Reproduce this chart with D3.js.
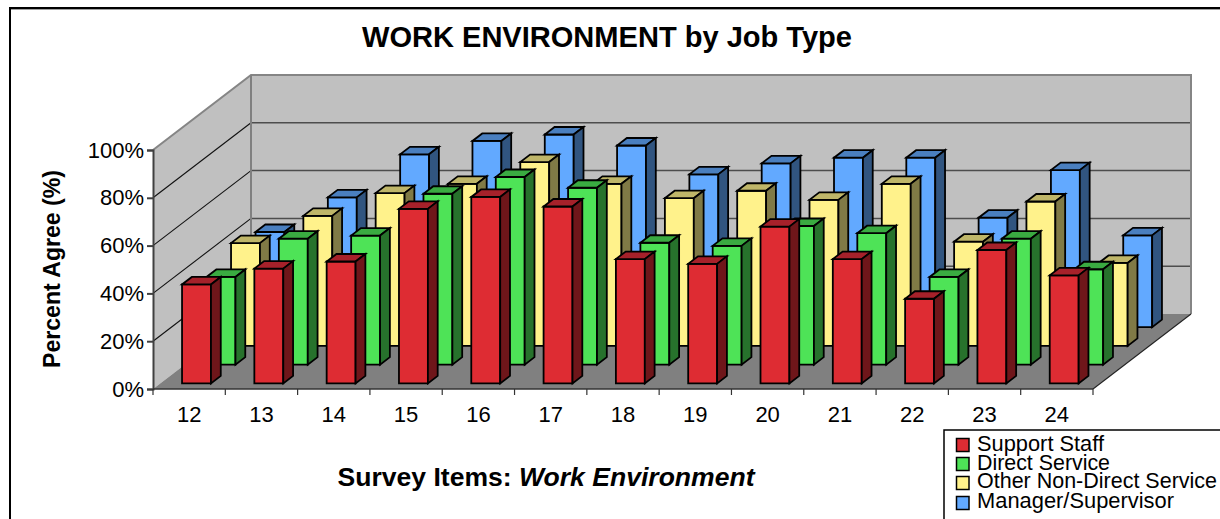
<!DOCTYPE html>
<html><head><meta charset="utf-8">
<script src="https://cdn.jsdelivr.net/npm/d3@7"></script>
<style>
html,body{margin:0;padding:0;background:#fff}
svg{display:block}
text{font-family:"Liberation Sans",Arial,sans-serif;fill:#000}
</style></head><body>
<svg id="chart" width="1220" height="519"></svg>
<script>
const categories = ["12","13","14","15","16","17","18","19","20","21","22","23","24"];
const seriesNames = ["Support Staff","Direct Service","Other Non-Direct Service","Manager/Supervisor"];
const supportStaff = [41.4,48,51,73,78,74,52,50,65.6,52,35.4,55.8,45.2];
const directService = [36.7,52.7,54,71.5,78.5,74,51,49.7,58,55,36.7,52.7,39.9];
const otherNonDirect = [43,54.4,63.9,67.8,76.9,67.8,61.8,64.9,61.1,67.8,43.6,60.4,34.7];
const manager = [39.8,54.3,72.3,77.9,80.6,76,63.9,68.5,70.9,70.9,45.8,65.7,38.4];
const seriesValues = [supportStaff,directService,otherNonDirect,manager];
const frontColors = ["#DE2C33","#4EE357","#FFF28B","#62A9FF"];
const topColors = ["#A6212A","#3AAB41","#BFB669","#4A7FBF"];
const sideColors = ["#6F161A","#27722C","#807A46","#315580"];
const yTicks = [0,20,40,60,80,100];

const L=153,R=1093,B=389,T=150,DX=98,DY=75;
const svg=d3.select("#chart");
const x=d3.scaleBand().domain(categories).range([L,R]).paddingInner(.6).paddingOuter(.3);
const step=x.step();
const depth=d3.scaleBand().domain(seriesNames).range([0,1]).paddingInner(.6).paddingOuter(.3);
const y=d3.scaleLinear().domain([0,100]).range([B,T]);
const poly=pts=>pts.map(p=>p.join(",")).join(" ");

// outer frame
svg.append("line").attr("x1",10).attr("x2",1220).attr("y1",9.5).attr("y2",9.5).attr("stroke","#a0a0a0").attr("stroke-width",1);
svg.append("line").attr("x1",9).attr("x2",1220).attr("y1",8).attr("y2",8).attr("stroke","#000").attr("stroke-width",2);
svg.append("line").attr("x1",10).attr("x2",10).attr("y1",7).attr("y2",519).attr("stroke","#000").attr("stroke-width",2);

// walls and floor
svg.append("polygon").attr("points",poly([[L,T],[L+DX,T-DY],[L+DX,B-DY],[L,B]])).attr("fill","#C0C0C0");
svg.append("polygon").attr("points",poly([[L+DX,T-DY],[R+DX,T-DY],[R+DX,B-DY],[L+DX,B-DY]])).attr("fill","#C0C0C0");
svg.append("polygon").attr("points",poly([[L,B],[R,B],[R+DX,B-DY],[L+DX,B-DY]])).attr("fill","#808080");

// gridlines
yTicks.slice(1,-1).forEach(t=>{
  svg.append("line").attr("x1",L).attr("y1",y(t)).attr("x2",L+DX).attr("y2",y(t)-DY).attr("stroke","#111").attr("stroke-width",1.1);
  svg.append("line").attr("x1",L+DX).attr("y1",y(t)-DY).attr("x2",R+DX).attr("y2",y(t)-DY).attr("stroke","#4d4d4d").attr("stroke-width",1.5);
});
svg.append("polyline").attr("points",poly([[L,T],[L+DX,T-DY],[R+DX,T-DY],[R+DX,B-DY]])).attr("fill","none").attr("stroke","#858585").attr("stroke-width",2);
svg.append("line").attr("x1",L+DX).attr("y1",T-DY).attr("x2",L+DX).attr("y2",B-DY).attr("stroke","#808080").attr("stroke-width",2);
svg.append("line").attr("x1",R).attr("y1",B).attr("x2",R+DX).attr("y2",B-DY).attr("stroke","#222").attr("stroke-width",1.1);

// bars, back row first
const bw=x.bandwidth(), ddx=depth.bandwidth()*DX, ddy=depth.bandwidth()*DY;
d3.range(seriesNames.length-1,-1,-1).forEach(s=>{
  const ox=depth(seriesNames[s])*DX, oy=-depth(seriesNames[s])*DY;
  const g=svg.append("g").attr("stroke","#000").attr("stroke-width",1.8).attr("stroke-linejoin","miter");
  const bars=g.selectAll("g").data(seriesValues[s].map((v,i)=>({v,c:categories[i]}))).join("g");
  bars.append("polygon").attr("fill",frontColors[s]).attr("points",d=>{
    const a=x(d.c)+ox,b=a+bw,t=y(d.v)+oy,e=B+oy;return poly([[a,t],[b,t],[b,e],[a,e]]);});
  bars.append("polygon").attr("fill",topColors[s]).attr("points",d=>{
    const a=x(d.c)+ox,b=a+bw,t=y(d.v)+oy;return poly([[a,t],[b,t],[b+ddx,t-ddy],[a+ddx,t-ddy]]);});
  bars.append("polygon").attr("fill",sideColors[s]).attr("points",d=>{
    const b=x(d.c)+ox+bw,t=y(d.v)+oy,e=B+oy;return poly([[b,t],[b+ddx,t-ddy],[b+ddx,e-ddy],[b,e]]);});
});

// axes
const yAxis=svg.append("g").attr("transform",`translate(${L},0)`)
  .call(d3.axisLeft(y).tickValues(yTicks).tickFormat(d=>d+"%").tickSize(6).tickPadding(3));
yAxis.selectAll("path,line").attr("stroke","#404040").attr("stroke-width",2);
yAxis.selectAll("text").attr("font-size",22).style("font-family",'"Liberation Sans",Arial,sans-serif').attr("dy","0.32em");
const xAxis=svg.append("g").attr("transform",`translate(0,${B})`)
  .call(d3.axisBottom(x).tickSize(0).tickPadding(17));
xAxis.select("path").remove();
xAxis.selectAll("text").attr("font-size",22).style("font-family",'"Liberation Sans",Arial,sans-serif');
svg.append("line").attr("x1",L).attr("x2",R).attr("y1",B).attr("y2",B).attr("stroke","#333").attr("stroke-width",1.5);
d3.range(categories.length+1).forEach(i=>{
  const px=L+i*step;
  svg.append("line").attr("x1",px).attr("x2",px).attr("y1",B).attr("y2",B+6).attr("stroke","#333").attr("stroke-width",1.2);
});

// titles
svg.append("text").attr("x",607).attr("y",47).attr("text-anchor","middle").attr("font-size",29).attr("font-weight","bold")
  .attr("textLength",490).attr("lengthAdjust","spacingAndGlyphs").text("WORK ENVIRONMENT by Job Type");
svg.append("text").attr("transform","translate(60,269) rotate(-90)").attr("text-anchor","middle").attr("font-size",23).attr("font-weight","bold")
  .attr("textLength",198).attr("lengthAdjust","spacingAndGlyphs").text("Percent Agree (%)");
const xt=svg.append("text").attr("x",546).attr("y",486).attr("text-anchor","middle").attr("font-size",25).attr("font-weight","bold")
  .attr("textLength",417).attr("lengthAdjust","spacingAndGlyphs");
xt.append("tspan").text("Survey Items: ");
xt.append("tspan").attr("font-style","italic").text("Work Environment");

// legend
svg.append("path").attr("d","M1220,430H944V519").attr("fill","none").attr("stroke","#000").attr("stroke-width",1.5);
const rowY=[445,464,483,503], textY=[450.5,470,488,508], widths=[127,133,240,197];
seriesNames.forEach((n,i)=>{
  svg.append("rect").attr("x",956.5).attr("y",rowY[i]-6.5).attr("width",12.5).attr("height",13)
    .attr("fill",frontColors[i]).attr("stroke","#000").attr("stroke-width",1.5);
  svg.append("text").attr("x",977).attr("y",textY[i]).attr("font-size",21.5).attr("textLength",widths[i]).attr("lengthAdjust","spacingAndGlyphs").text(n);
});
</script>
</body></html>
